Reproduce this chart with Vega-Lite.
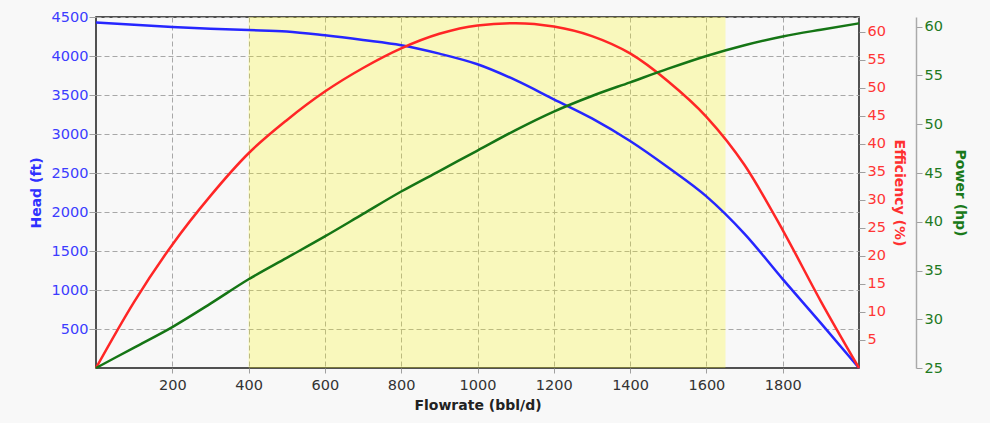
{
  "$schema": "https://vega.github.io/schema/vega-lite/v6.json",
  "width": 763,
  "height": 351,
  "autosize": {"type": "none"},
  "padding": {"left": 96, "top": 17, "right": 131, "bottom": 55},
  "background": "#f8f8f8",
  "config": {
    "font": "DejaVu Sans",
    "view": {"stroke": "#1a1a1a", "strokeWidth": 1.5, "fill": "#f8f8f8"},
    "axis": {"labelFontSize": 14.5, "titleFontSize": 14, "titleFontWeight": "bold", "gridDash": [5, 3], "gridColor": "#a8a8a8", "gridWidth": 1, "tickColor": "#a0a0a0", "tickSize": 6, "labelPadding": 2, "format": "d"}
  },
  "data": {
    "values": [
      {"flow": 0, "head": 4430, "eff": 0, "power": 25},
      {"flow": 100, "head": 4400, "eff": 11.8, "power": 27.1},
      {"flow": 200, "head": 4373, "eff": 22.0, "power": 29.2},
      {"flow": 300, "head": 4350, "eff": 30.7, "power": 31.6},
      {"flow": 400, "head": 4333, "eff": 38.3, "power": 34.1},
      {"flow": 500, "head": 4315, "eff": 44.2, "power": 36.3},
      {"flow": 600, "head": 4265, "eff": 49.3, "power": 38.5},
      {"flow": 700, "head": 4205, "eff": 53.5, "power": 40.8},
      {"flow": 800, "head": 4138, "eff": 57.0, "power": 43.1},
      {"flow": 900, "head": 4030, "eff": 59.6, "power": 45.2},
      {"flow": 1000, "head": 3894, "eff": 61.1, "power": 47.3},
      {"flow": 1100, "head": 3690, "eff": 61.5, "power": 49.4},
      {"flow": 1200, "head": 3445, "eff": 60.9, "power": 51.3},
      {"flow": 1300, "head": 3200, "eff": 59.2, "power": 52.9},
      {"flow": 1400, "head": 2910, "eff": 56.1, "power": 54.3},
      {"flow": 1500, "head": 2570, "eff": 51.1, "power": 55.7},
      {"flow": 1600, "head": 2200, "eff": 44.8, "power": 57.0},
      {"flow": 1700, "head": 1720, "eff": 36.2, "power": 58.1},
      {"flow": 1800, "head": 1140, "eff": 24.6, "power": 59.0},
      {"flow": 1900, "head": 575, "eff": 11.9, "power": 59.7},
      {"flow": 2000, "head": 0, "eff": 0, "power": 60.35}
    ]
  },
  "layer": [
    {
      "data": {"values": [{"flow": 400, "flowEnd": 1650}]},
      "mark": {"type": "rect", "color": "#fffc00", "opacity": 0.24},
      "encoding": {
        "x": {"field": "flow", "type": "quantitative", "scale": {"domain": [0, 2000], "nice": false, "zero": false}, "title": "Flowrate (bbl/d)",
          "axis": {"values": [200, 400, 600, 800, 1000, 1200, 1400, 1600, 1800], "grid": true, "ticks": true, "tickSize": 5, "domain": false, "labelPadding": 5, "labelColor": "#333333", "titleColor": "#222222", "titlePadding": 7}},
        "x2": {"field": "flowEnd"}
      }
    },
    {
      "mark": {"type": "line", "color": "#2626ff", "strokeWidth": 2.5, "interpolate": "monotone"},
      "encoding": {
        "x": {"field": "flow", "type": "quantitative", "title": "Flowrate (bbl/d)",
          "axis": {"values": [200, 400, 600, 800, 1000, 1200, 1400, 1600, 1800], "grid": true, "ticks": true, "tickSize": 5, "domain": false, "labelPadding": 5, "labelColor": "#333333", "titleColor": "#222222", "titlePadding": 7}},
        "y": {"field": "head", "type": "quantitative", "scale": {"domain": [0, 4500], "nice": false},
          "axis": {"orient": "left", "values": [500, 1000, 1500, 2000, 2500, 3000, 3500, 4000, 4500], "grid": true, "domain": false, "tickSize": 7, "labelPadding": 1, "labelColor": "#3c3cff", "title": "Head (ft)", "titleColor": "#3030ff", "titlePadding": 8}}
      }
    },
    {
      "mark": {"type": "line", "color": "#ff2626", "strokeWidth": 2.5, "interpolate": "monotone"},
      "encoding": {
        "x": {"field": "flow", "type": "quantitative", "title": "Flowrate (bbl/d)",
          "axis": {"values": [200, 400, 600, 800, 1000, 1200, 1400, 1600, 1800], "grid": true, "ticks": true, "tickSize": 5, "domain": false, "labelPadding": 5, "labelColor": "#333333", "titleColor": "#222222", "titlePadding": 7}},
        "y": {"field": "eff", "type": "quantitative", "scale": {"domain": [0, 62.6], "nice": false},
          "axis": {"orient": "right", "values": [5, 10, 15, 20, 25, 30, 35, 40, 45, 50, 55, 60], "grid": false, "domain": false, "labelColor": "#ff3535", "title": "Efficiency (%)", "titleColor": "#ff3030", "titlePadding": 6}}
      }
    },
    {
      "mark": {"type": "line", "color": "#157515", "strokeWidth": 2.5, "interpolate": "monotone"},
      "encoding": {
        "x": {"field": "flow", "type": "quantitative", "title": "Flowrate (bbl/d)",
          "axis": {"values": [200, 400, 600, 800, 1000, 1200, 1400, 1600, 1800], "grid": true, "ticks": true, "tickSize": 5, "domain": false, "labelPadding": 5, "labelColor": "#333333", "titleColor": "#222222", "titlePadding": 7}},
        "y": {"field": "power", "type": "quantitative", "scale": {"domain": [25, 61], "nice": false, "zero": false},
          "axis": {"orient": "right", "offset": 57, "values": [25, 30, 35, 40, 45, 50, 55, 60], "grid": false, "domain": true, "domainColor": "#aaaaaa", "domainWidth": 1.5, "labelColor": "#1f7a1f", "title": "Power (hp)", "titleColor": "#1a7a1a", "titlePadding": 10}}
      }
    }
  ],
  "resolve": {"scale": {"y": "independent"}, "axis": {"y": "independent"}}
}
